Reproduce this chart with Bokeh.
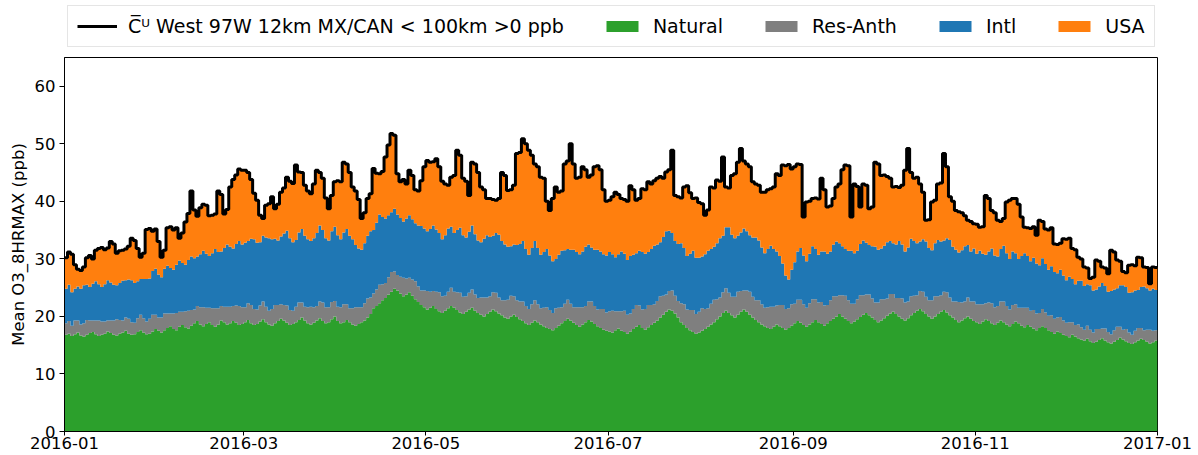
import numpy as np
import pandas as pd
from bokeh.plotting import figure
from bokeh.layouts import column
from bokeh.models import (ColumnDataSource, Legend, LegendItem, FixedTicker,
                          DatetimeTickFormatter, Range1d)
from bokeh.embed import file_html
from bokeh.resources import INLINE

# ---------------- data (daily, 2016-01-01 .. 2016-12-31) ----------------
total = [
    # Jan
    30.2, 31.2, 30.8, 29.0, 28.2, 28.0, 28.6, 30.2, 30.6, 30.0,
    31.5, 31.8, 32.0, 31.6, 31.9, 33.0, 32.6, 31.0, 31.4, 31.5,
    31.7, 32.2, 33.6, 33.2, 31.8, 30.3, 31.0, 35.1, 35.3, 34.8, 35.2,
    # Feb
    33.0, 30.3, 31.5, 35.4, 35.6, 35.0, 35.4, 33.6, 34.5, 36.4,
    37.9, 41.8, 38.5, 37.4, 38.9, 39.5, 39.3, 37.5, 37.6, 37.8,
    41.8, 41.2, 37.8, 38.6, 42.5, 43.8, 44.6, 45.6, 45.4,
    # Mar
    45.4, 45.0, 43.8, 41.4, 40.2, 37.6, 37.0, 39.3, 39.6, 40.8,
    38.7, 39.5, 41.6, 42.3, 44.2, 43.5, 43.1, 46.3, 45.1, 45.0,
    42.8, 41.8, 41.3, 43.0, 45.4, 45.0, 44.0, 40.6, 38.7, 41.0, 43.4,
    # Apr
    43.6, 43.4, 46.8, 46.5, 45.0, 42.5, 41.8, 40.3, 37.0, 38.0,
    40.5, 41.3, 45.7, 44.9, 44.8, 45.2, 47.7, 49.8, 51.8, 51.5,
    44.8, 43.4, 43.8, 43.0, 45.4, 44.5, 42.0, 41.8, 43.6, 46.0,
    # May
    47.1, 46.8, 46.9, 47.4, 46.0, 43.5, 43.0, 42.8, 44.2, 44.5,
    48.9, 48.0, 44.0, 43.5, 41.0, 46.8, 46.5, 45.0, 42.5, 42.0,
    40.5, 40.5, 40.3, 40.2, 40.5, 45.0, 44.5, 41.9, 42.0, 42.8, 48.3,
    # Jun
    48.5, 50.9, 50.0, 48.9, 48.0, 46.5, 46.0, 44.2, 44.0, 40.0,
    38.4, 40.5, 42.5, 41.6, 41.8, 46.5, 47.0, 50.0, 46.5, 44.0,
    44.2, 46.0, 45.5, 44.2, 44.6, 46.0, 46.2, 45.5, 42.0, 40.0,
    # Jul
    40.2, 40.8, 41.6, 41.2, 40.5, 40.3, 40.0, 42.7, 42.0, 40.2,
    40.5, 42.2, 42.0, 43.4, 43.0, 43.6, 44.0, 44.3, 44.0, 45.1,
    45.5, 48.9, 41.0, 40.8, 40.6, 42.5, 42.7, 41.5, 40.5, 40.6, 39.8,
    # Aug
    39.6, 37.6, 38.5, 42.5, 42.3, 43.7, 43.5, 47.7, 42.5, 42.3,
    44.5, 44.8, 46.8, 49.2, 47.0, 46.5, 46.0, 43.4, 43.0, 42.8,
    41.6, 41.6, 42.0, 42.2, 42.5, 44.8, 44.5, 46.3, 46.2, 46.4, 45.6,
    # Sep
    46.0, 46.5, 46.4, 37.3, 39.9, 40.0, 40.5, 40.6, 40.4, 44.0,
    42.0, 39.0, 39.2, 40.5, 42.5, 43.0, 45.5, 46.3, 46.2, 37.3,
    43.0, 42.6, 39.0, 43.0, 42.8, 38.7, 39.0, 46.8, 46.5, 44.5,
    # Oct
    44.6, 44.3, 44.0, 42.5, 42.6, 42.4, 42.8, 45.4, 49.2, 45.0,
    44.0, 44.2, 43.0, 41.6, 36.7, 36.8, 39.9, 40.2, 43.0, 43.2,
    48.3, 46.0, 40.8, 40.0, 38.4, 38.2, 38.0, 37.5, 36.7, 36.5, 36.1,
    # Nov
    36.0, 35.5, 35.6, 41.0, 40.5, 38.4, 38.0, 36.7, 36.5, 37.0,
    39.9, 40.2, 40.5, 40.5, 39.5, 37.3, 35.5, 35.4, 35.3, 35.6,
    34.1, 36.7, 36.5, 35.2, 35.0, 35.4, 32.6, 32.5, 32.7, 33.5,
    # Dec
    33.4, 33.6, 31.8, 31.6, 30.3, 30.0, 28.6, 28.4, 26.6, 26.8,
    29.8, 29.6, 28.6, 28.4, 27.4, 31.5, 31.2, 29.8, 29.6, 27.8,
    27.6, 28.9, 29.0, 28.8, 30.3, 30.2, 28.6, 28.5, 25.7, 28.6, 28.5,
]

natural = [
    # Jan
    16.8, 17.0, 16.6, 16.9, 17.2, 16.7, 16.5, 16.8, 17.1, 17.3,
    16.9, 16.6, 16.8, 17.0, 17.4, 17.1, 16.8, 16.7, 17.0, 17.2,
    17.5, 17.0, 16.8, 16.9, 17.3, 17.6, 17.2, 16.9, 17.0, 17.4, 17.8,
    # Feb
    17.5, 17.2, 17.6, 18.0, 18.3, 17.8, 17.6, 18.2, 18.5, 18.1,
    17.9, 18.4, 18.8, 19.2, 18.6, 18.3, 18.7, 19.0, 18.5, 18.2,
    18.6, 19.3, 19.0, 18.6, 18.8, 19.2, 18.9, 18.5, 18.7,
    # Mar
    19.0, 19.4, 18.8, 18.5, 18.7, 19.1, 19.5, 19.0, 18.6, 18.4,
    18.8, 19.2, 19.6, 19.3, 18.9, 18.5, 18.7, 19.0, 19.4, 19.8,
    19.3, 18.8, 18.6, 18.9, 19.3, 19.7, 19.2, 18.8, 19.0, 19.5, 20.0,
    # Apr
    19.2, 18.8, 19.0, 19.4, 19.0, 18.6, 18.4, 18.7, 19.0, 19.3,
    19.8, 20.4, 21.4, 21.8, 22.3, 22.8, 23.2, 23.8, 24.3, 24.8,
    24.5, 24.0, 23.5, 23.8, 24.2, 23.6, 23.0, 22.5, 22.0, 21.6,
    # May
    21.2, 21.5, 21.8, 21.3, 20.9, 20.6, 21.0, 21.4, 21.8, 21.5,
    21.1, 20.7, 20.4, 20.8, 21.2, 21.5, 21.0, 20.6, 20.3, 20.0,
    20.4, 20.8, 21.2, 20.9, 20.5, 20.2, 19.8, 19.6, 20.0, 20.3, 19.9,
    # Jun
    19.5, 19.2, 18.8, 18.5, 18.9, 19.3, 19.0, 18.6, 18.3, 18.0,
    17.8, 17.6, 18.0, 18.4, 18.8, 19.2, 19.6, 19.3, 18.9, 18.5,
    18.2, 18.6, 19.0, 19.4, 19.1, 18.7, 18.3, 18.0, 17.7, 17.5,
    # Jul
    17.4, 17.2, 17.6, 17.9, 17.5, 17.3, 17.0, 17.4, 17.8, 18.2,
    18.5, 18.0, 17.7, 18.1, 18.5, 18.9, 19.3, 19.8, 20.3, 20.8,
    21.2, 21.0, 20.5, 19.8, 19.0, 18.5, 18.0, 17.6, 17.3, 17.0, 17.2,
    # Aug
    17.5, 17.8, 18.2, 18.6, 19.0, 19.5, 20.0, 20.6, 21.0, 20.6,
    20.2, 19.8, 20.3, 20.8, 21.2, 20.8, 20.3, 19.8, 19.4, 19.0,
    18.6, 18.3, 18.0, 17.8, 18.2, 18.6, 18.3, 18.0, 17.7, 18.0, 18.4,
    # Sep
    18.8, 19.2, 18.9, 18.5, 18.2, 18.6, 19.0, 19.4, 19.0, 18.7,
    18.4, 18.8, 19.2, 19.6, 20.0, 20.4, 20.0, 19.6, 19.2, 18.8,
    19.1, 19.5, 19.9, 20.3, 20.6, 20.2, 19.8, 19.4, 19.0, 19.3,
    # Oct
    19.7, 20.1, 20.5, 20.8, 20.4, 20.0, 19.6, 19.3, 19.7, 20.2,
    20.6, 21.0, 21.3, 20.9, 20.4, 20.0, 19.6, 20.0, 20.4, 20.8,
    21.1, 20.7, 20.2, 19.8, 19.4, 19.0, 19.3, 19.7, 20.0, 19.6, 19.2,
    # Nov
    19.0, 18.7, 19.1, 19.5, 19.2, 18.8, 18.5, 18.9, 19.3, 19.0,
    18.6, 18.3, 18.7, 19.1, 18.8, 18.4, 18.1, 18.5, 18.2, 17.9,
    17.6, 18.0, 18.3, 18.0, 17.6, 17.3, 17.0, 17.4, 17.1, 16.8,
    # Dec
    16.6, 16.4, 16.8, 16.5, 16.2, 16.0, 15.8, 16.1, 15.7, 15.4,
    15.6, 15.9, 16.2, 15.8, 15.5, 15.3, 15.6, 15.9, 16.3, 16.0,
    15.7, 15.4, 15.2, 15.5, 15.8, 16.1, 15.9, 15.6, 15.3, 15.5, 15.8,
]

res_anth = [
    # Jan
    2.0, 2.2, 1.8, 2.4, 2.1, 1.9, 2.3, 2.6, 2.2, 2.0,
    2.4, 2.7, 2.3, 2.1, 1.9, 2.2, 2.5, 2.8, 2.4, 2.1,
    2.3, 2.6, 2.2, 2.0, 2.4, 2.7, 2.5, 2.2, 2.6, 2.9, 2.5,
    # Feb
    2.3, 2.6, 2.9, 2.5, 2.2, 2.7, 3.0, 2.6, 2.3, 2.8,
    3.1, 2.7, 2.4, 2.6, 3.0, 3.3, 2.8, 2.5, 2.9, 3.2,
    2.8, 2.5, 2.7, 3.1, 2.9, 2.6, 3.0, 3.3, 2.9,
    # Mar
    2.6, 2.9, 3.2, 2.8, 2.5, 2.8, 3.1, 2.7, 2.4, 2.9,
    3.2, 2.8, 2.5, 2.7, 3.0, 2.6, 2.3, 2.7, 3.0, 2.6,
    2.4, 2.8, 3.1, 2.7, 2.5, 2.9, 3.2, 2.8, 2.6, 3.0, 2.7,
    # Apr
    2.5, 2.8, 3.1, 2.7, 2.4, 2.8, 3.2, 2.9, 2.6, 3.0,
    3.3, 2.9, 2.6, 2.9, 3.2, 2.8, 2.6, 3.0, 3.4, 3.0,
    2.7, 2.9, 3.2, 2.8, 2.5, 2.8, 3.1, 2.7, 2.5, 2.9,
    # May
    3.2, 2.8, 2.6, 3.0, 3.3, 2.9, 2.6, 2.9, 3.2, 2.8,
    3.1, 3.4, 3.0, 2.7, 2.9, 3.2, 2.8, 2.6, 3.0, 3.3,
    2.9, 2.7, 3.0, 3.2, 2.8, 2.6, 3.0, 3.3, 3.6, 3.2, 2.9,
    # Jun
    3.1, 3.4, 3.0, 2.8, 3.2, 3.5, 3.1, 2.8, 3.2, 3.6,
    3.3, 3.0, 3.4, 3.1, 2.8, 3.0, 3.3, 2.9, 2.7, 3.1,
    3.4, 3.0, 2.8, 3.2, 3.5, 3.1, 2.9, 3.3, 3.6, 3.2,
    # Jul
    3.5, 3.8, 3.3, 3.0, 3.4, 3.7, 3.3, 3.1, 3.5, 3.8,
    3.4, 3.2, 3.6, 3.9, 3.5, 3.2, 3.4, 3.7, 3.3, 3.0,
    3.2, 3.5, 3.1, 2.9, 3.3, 3.6, 3.2, 3.5, 3.8, 3.4, 3.6,
    # Aug
    3.9, 3.5, 3.2, 3.6, 3.9, 3.5, 3.3, 3.6, 3.9, 3.5,
    3.2, 3.6, 4.0, 3.6, 3.3, 3.7, 4.0, 3.6, 3.4, 3.8,
    3.5, 3.2, 3.6, 3.9, 3.5, 3.3, 3.7, 4.0, 3.6, 3.4, 3.7,
    # Sep
    3.4, 3.7, 4.0, 3.6, 3.3, 3.7, 4.0, 3.6, 3.4, 3.8,
    3.5, 3.2, 3.6, 3.9, 3.5, 3.3, 3.7, 4.0, 3.6, 3.4,
    3.1, 3.5, 3.8, 3.4, 3.2, 3.6, 3.3, 3.0, 3.4, 3.7,
    # Oct
    3.3, 3.0, 3.4, 3.1, 2.8, 3.2, 3.5, 3.1, 2.9, 3.3,
    3.0, 2.7, 3.1, 3.4, 3.0, 2.8, 3.2, 3.5, 3.1, 2.9,
    3.2, 3.5, 3.1, 2.8, 3.2, 3.5, 3.1, 2.9, 3.3, 3.0, 3.4,
    # Nov
    3.1, 3.4, 3.0, 2.8, 3.2, 3.5, 3.1, 2.9, 3.3, 3.6,
    3.2, 2.9, 3.3, 3.0, 2.7, 3.1, 3.4, 3.0, 2.8, 3.2,
    2.9, 2.6, 3.0, 2.7, 2.5, 2.9, 2.6, 2.4, 2.8, 2.5,
    # Dec
    2.3, 2.6, 2.2, 2.0, 2.4, 2.1, 1.9, 2.3, 2.0, 1.8,
    2.2, 1.9, 1.7, 2.1, 1.8, 1.6, 2.0, 2.3, 1.9, 1.7,
    2.1, 1.8, 1.6, 2.0, 2.2, 1.9, 1.7, 2.1, 2.4, 2.0, 1.8,
]

intl = [
    # Jan
    6.0, 6.3, 5.8, 5.5, 5.9, 6.2, 6.6, 6.1, 5.8, 6.4,
    6.8, 6.3, 6.0, 6.5, 7.0, 6.6, 6.2, 5.9, 6.4, 6.9,
    6.5, 6.8, 7.3, 6.9, 6.4, 6.2, 6.8, 7.4, 7.0, 7.6, 8.0,
    # Feb
    7.5, 7.0, 7.8, 8.3, 7.9, 7.6, 8.4, 8.9, 8.5, 8.1,
    8.8, 9.3, 8.9, 8.6, 9.2, 9.8, 9.4, 9.0, 9.6, 10.3,
    9.8, 9.5, 10.2, 10.8, 10.4, 10.0, 10.7, 11.3, 10.9,
    # Mar
    11.2, 10.8, 11.5, 12.1, 11.6, 11.0, 11.4, 12.0, 12.6, 12.1,
    11.5, 11.2, 11.8, 12.4, 13.0, 12.5, 11.9, 11.6, 12.2, 12.8,
    12.3, 11.8, 11.4, 12.0, 12.7, 13.2, 12.6, 12.0, 11.6, 12.3, 12.9,
    # Apr
    12.4, 11.8, 12.5, 13.1, 12.6, 12.0, 10.8, 10.2, 10.0, 10.4,
    10.9, 11.5, 11.0, 11.6, 12.2, 11.7, 11.2, 10.8, 10.4, 10.9,
    10.5, 10.2, 9.8, 10.4, 10.9, 10.5, 10.1, 10.6, 11.2, 10.8,
    # May
    10.4, 10.9, 11.4, 10.8, 10.3, 9.9, 10.5, 11.0, 10.6, 10.2,
    10.8, 11.3, 10.7, 10.2, 10.6, 11.1, 10.5, 10.0, 9.6, 10.2,
    10.8, 10.3, 9.8, 10.4, 10.9, 10.3, 9.7, 9.2, 8.6, 9.0, 9.6,
    # Jun
    10.0, 10.5, 9.9, 9.4, 9.8, 10.3, 9.8, 9.3, 9.7, 10.1,
    9.5, 9.0, 8.6, 9.2, 9.8, 9.3, 8.8, 9.4, 10.0, 9.6,
    9.2, 9.7, 10.3, 9.9, 9.4, 9.8, 10.4, 10.0, 9.5, 9.9,
    # Jul
    10.3, 9.8, 9.4, 9.9, 10.4, 9.9, 9.5, 10.0, 9.4, 9.0,
    9.5, 10.0, 9.6, 9.2, 9.7, 10.2, 9.8, 9.4, 10.2, 11.0,
    10.5, 10.0, 9.5, 9.9, 10.4, 9.8, 9.3, 9.8, 10.3, 9.8, 9.4,
    # Aug
    9.0, 9.5, 10.0, 9.5, 9.2, 9.7, 10.3, 9.8, 10.6, 11.4,
    10.8, 10.2, 9.7, 10.2, 10.8, 10.3, 9.8, 10.3, 10.9, 10.4,
    9.9, 9.5, 10.1, 10.6, 10.0, 9.4, 8.5, 7.2, 5.8, 5.0, 6.0,
    # Sep
    7.2, 8.4, 9.0, 8.5, 8.1, 8.6, 9.2, 8.7, 8.3, 8.8,
    9.4, 8.9, 8.5, 9.0, 9.5, 9.0, 8.5, 8.1, 8.6, 9.2,
    8.8, 8.4, 8.9, 9.5, 9.0, 8.6, 9.1, 9.7, 9.2, 8.8,
    # Oct
    9.3, 9.8, 9.2, 8.8, 9.3, 9.9, 9.4, 8.9, 9.4, 10.0,
    9.5, 9.0, 8.6, 9.1, 9.6, 9.1, 8.7, 9.2, 9.8, 9.3,
    8.9, 9.4, 10.0, 9.5, 9.0, 8.6, 9.1, 9.6, 9.1, 8.7, 9.2,
    # Nov
    8.8, 9.3, 8.8, 8.4, 8.9, 9.5, 9.0, 8.6, 9.1, 9.7,
    9.2, 8.8, 9.3, 8.9, 8.5, 9.0, 9.5, 9.0, 8.6, 9.1,
    8.7, 8.3, 8.8, 8.4, 8.0, 8.5, 8.1, 7.7, 8.2, 7.8,
    # Dec
    7.4, 7.9, 7.5, 7.1, 7.6, 8.1, 7.6, 7.2, 7.7, 7.3,
    6.9, 7.4, 7.9, 7.4, 7.0, 7.5, 7.1, 6.7, 7.2, 7.7,
    7.3, 6.9, 7.4, 7.0, 6.6, 7.1, 7.6, 7.2, 6.8, 7.3, 7.0,
]

start_date = "2016-01-01"
x_tick_labels = ["2016-01", "2016-03", "2016-05", "2016-07", "2016-09", "2016-11", "2017-01"]
y_ticks = [0, 10, 20, 30, 40, 50, 60]
series_names = ["Natural", "Res-Anth", "Intl", "USA"]
series_colors = ["#2ca02c", "#7f7f7f", "#1f77b4", "#ff7f0e"]
line_label = "C\u0305\u1D41 West 97W 12km MX/CAN < 100km >0 ppb"
y_label = "Mean O3_8HRMAX (ppb)"

# ---------------- build source (stacked layers) ----------------
n = len(total)
dates = pd.date_range(start_date, periods=n + 1, freq="D")  # extra edge so the last day spans
tot = np.array(total)
nat = np.array(natural)
ra = np.array(res_anth)
itl = np.array(intl)
usa = np.maximum(tot - nat - ra - itl, 0.2)

layers = [nat, ra, itl, usa]
cum = [np.zeros(n)]
for layer in layers:
    cum.append(cum[-1] + layer)


def ext(a):
    a = list(a)
    return a + [a[-1]]


data = dict(date=dates, total=ext(tot))
for i, c in enumerate(cum):
    data["c%d" % i] = ext(c)
src = ColumnDataSource(data)

# ---------------- geometry ----------------
FONT = "DejaVu Sans"
W = 1198
LEG_H = 56
MAIN_H = 455 - LEG_H
B_LEFT, B_RIGHT, B_TOP, B_BOTTOM = 64, 41, 1, 24

x_start = pd.Timestamp(x_tick_labels[0] + "-01")
x_end = pd.Timestamp(x_tick_labels[-1] + "-01")

# ---------------- main figure ----------------
p = figure(width=W, height=MAIN_H, x_axis_type="datetime",
           x_range=Range1d(x_start, x_end), y_range=Range1d(0, 65),
           output_backend="svg", toolbar_location=None,
           min_border_left=B_LEFT, min_border_right=B_RIGHT,
           min_border_top=B_TOP, min_border_bottom=B_BOTTOM)

for i, color in enumerate(series_colors):
    p.varea_step(x="date", y1="c%d" % i, y2="c%d" % (i + 1), step_mode="after",
                 fill_color=color, fill_alpha=1.0, source=src)

p.step(x="date", y="total", mode="after", line_color="black",
       line_width=3, source=src)

tick_ms = [pd.Timestamp(t + "-01").timestamp() * 1000 for t in x_tick_labels]
p.xaxis.ticker = FixedTicker(ticks=tick_ms)
p.xaxis.formatter = DatetimeTickFormatter(days="%Y-%m", months="%Y-%m", years="%Y-%m")
p.yaxis.ticker = FixedTicker(ticks=y_ticks)
p.yaxis.axis_label = y_label

for ax in (p.xaxis[0], p.yaxis[0]):
    ax.major_label_text_font = FONT
    ax.major_label_text_font_size = "16.5px"
    ax.major_label_text_color = "black"
    ax.major_tick_out = 5
    ax.major_tick_in = 0
    ax.major_tick_line_color = "black"
    ax.minor_tick_line_color = None
    ax.axis_line_color = "black"
    ax.axis_label_text_font = FONT
    ax.axis_label_text_font_size = "16.5px"
    ax.axis_label_text_font_style = "normal"
    ax.axis_label_text_color = "black"
p.xaxis.major_label_standoff = 1
p.xaxis.major_tick_out = 4
p.yaxis.major_label_standoff = 4
p.yaxis.axis_label_standoff = 4

p.xgrid.visible = False
p.ygrid.visible = False
p.outline_line_color = "black"
p.outline_line_width = 1
p.background_fill_color = "white"
p.border_fill_color = "white"

# ---------------- legend strip above the plot ----------------
# Its key renderers use the same data, but its ranges keep them out of view,
# so only the legend itself is visible.
lf = figure(width=W, height=LEG_H, output_backend="svg", toolbar_location=None,
            x_axis_location=None, y_axis_location=None,
            x_range=Range1d(0, 1), y_range=Range1d(0, 1),
            min_border_left=B_LEFT, min_border_right=B_RIGHT, min_border_top=0,
            min_border_bottom=0)
lf.outline_line_color = None
lf.xgrid.visible = False
lf.ygrid.visible = False
lf.background_fill_color = "white"
lf.border_fill_color = "white"

line_key = lf.step(x="date", y="total", mode="after", line_color="black",
                   line_width=3, source=src)
items = [LegendItem(label=line_label, renderers=[line_key])]
for i, (name, color) in enumerate(zip(series_names, series_colors)):
    rk = lf.varea_step(x="date", y1="c%d" % i, y2="c%d" % (i + 1), step_mode="after",
                       fill_color=color, source=src)
    items.append(LegendItem(label=name, renderers=[rk]))

legend = Legend(items=items, orientation="horizontal",
                location=(3, 9),
                label_text_font=FONT, label_text_font_size="19px",
                label_text_color="black",
                glyph_width=40, glyph_height=14, label_standoff=11,
                spacing=38, padding=9, margin=0,
                border_line_color="#cccccc", border_line_width=1,
                background_fill_color="white", background_fill_alpha=0.8)
lf.add_layout(legend, "center")

layout = column(lf, p, spacing=0)
open("out.html", "w").write(file_html(layout, INLINE))
